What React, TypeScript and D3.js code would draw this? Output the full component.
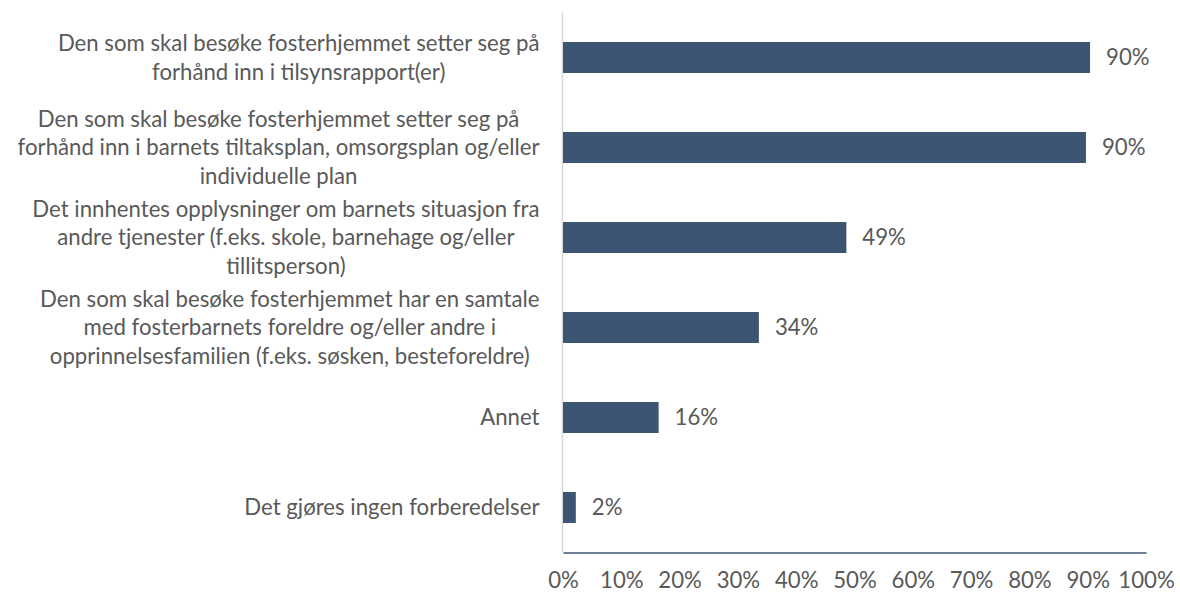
import React, { useEffect, useRef } from "react";
import * as d3 from "d3";

const categories: string[][] = [
  ["Den som skal besøke fosterhjemmet setter seg på", "forhånd inn i tilsynsrapport(er)"],
  [
    "Den som skal besøke fosterhjemmet setter seg på",
    "forhånd inn i barnets tiltaksplan, omsorgsplan og/eller",
    "individuelle plan",
  ],
  [
    "Det innhentes opplysninger om barnets situasjon fra",
    "andre tjenester (f.eks. skole, barnehage og/eller",
    "tillitsperson)",
  ],
  [
    "Den som skal besøke fosterhjemmet har en samtale",
    "med fosterbarnets foreldre og/eller andre i",
    "opprinnelsesfamilien (f.eks. søsken, besteforeldre)",
  ],
  ["Annet"],
  ["Det gjøres ingen forberedelser"],
];
const values = [90.4, 89.7, 48.6, 33.6, 16.4, 2.2];
const xTicks = [0, 10, 20, 30, 40, 50, 60, 70, 80, 90, 100];

const App = () => {
  const ref = useRef<SVGSVGElement>(null);

  useEffect(() => {
    const width = 1180;
    const height = 594;
    const font = "Lato, 'Open Sans', sans-serif";
    const fontSize = 22.2;
    const textColor = "#595959";
    const barColor = "#3B5573";

    const svg = d3.select(ref.current);
    svg.selectAll("*").remove();
    svg.attr("width", width).attr("height", height);

    const ids = categories.map((d, i) => String(i));
    const x = d3.scaleLinear().domain([0, 100]).range([563, 1146]);
    const y = d3
      .scaleBand()
      .domain(ids)
      .range([12.5, 552.5])
      .paddingInner(0.656)
      .paddingOuter(0.328);

    // light vertical axis line
    svg
      .append("line")
      .attr("x1", 562.5)
      .attr("x2", 562.5)
      .attr("y1", 12.5)
      .attr("y2", 552.5)
      .attr("stroke", "#D9D9D9")
      .attr("stroke-width", 1.5);

    svg
      .selectAll("rect.bar")
      .data(values)
      .enter()
      .append("rect")
      .attr("class", "bar")
      .attr("x", x(0))
      .attr("y", (d, i) => y(String(i)) as number)
      .attr("width", (d) => x(d) - x(0))
      .attr("height", y.bandwidth())
      .attr("fill", barColor);

    svg
      .selectAll("text.value")
      .data(values)
      .enter()
      .append("text")
      .attr("class", "value")
      .attr("x", (d) => x(d) + 16)
      .attr("y", (d, i) => (y(String(i)) as number) + y.bandwidth() / 2)
      .attr("dy", "0.35em")
      .attr("font-family", font)
      .attr("font-size", fontSize)
      .attr("fill", textColor)
      .text((d) => Math.round(d) + "%");

    // category labels, lines centred on each other, block right-aligned
    const lineH = 28.5;
    categories.forEach((lines, i) => {
      const cy = (y(String(i)) as number) + y.bandwidth() / 2;
      const t = svg
        .append("text")
        .attr("font-family", font)
        .attr("font-size", fontSize)
        .attr("fill", textColor)
        .attr("text-anchor", "middle");
      const spans = lines.map((line, j) =>
        t
          .append("tspan")
          .attr("y", cy + (j - (lines.length - 1) / 2) * lineH)
          .attr("dy", "0.35em")
          .text(line)
      );
      const maxW = d3.max(spans, (s) => (s.node() as SVGTSpanElement).getComputedTextLength()) || 0;
      spans.forEach((s) => s.attr("x", 539.5 - maxW / 2));
    });

    const xAxis = svg
      .append("g")
      .attr("transform", "translate(0,552.5)")
      .call(
        d3
          .axisBottom(x)
          .tickValues(xTicks)
          .tickSize(0)
          .tickPadding(20)
          .tickFormat((d) => d + "%")
      );
    xAxis.select(".domain").attr("stroke", barColor).attr("stroke-width", 1.5);
    xAxis
      .selectAll("text")
      .attr("font-family", font)
      .attr("font-size", fontSize)
      .attr("fill", textColor);
  }, []);

  return (
    <div>
      <svg ref={ref} style={{ position: "absolute", left: 0, top: 0 }}></svg>
    </div>
  );
};

export default App;
